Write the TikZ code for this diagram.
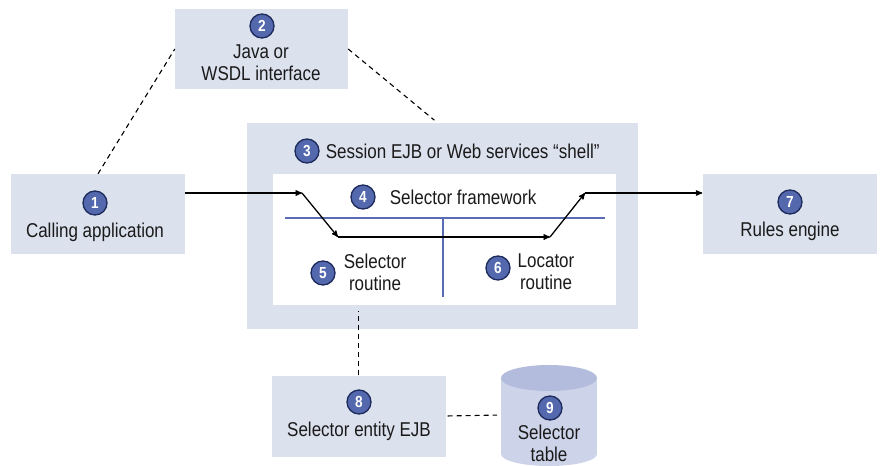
\documentclass[tikz,border=0pt]{standalone}
\usepackage{fontspec}
\setmainfont{Liberation Sans}[FakeStretch=0.85]
\usetikzlibrary{arrows,positioning}
\definecolor{boxfill}{HTML}{DCE1EE}
\definecolor{badge}{HTML}{5468AE}
\definecolor{badgeline}{HTML}{1C2A5C}
\definecolor{rulecol}{HTML}{5A6CB4}
\definecolor{tabbody}{HTML}{CDD3E8}
\definecolor{tabtop}{HTML}{B3BCDC}
\definecolor{ink}{HTML}{1A1A1A}

\begin{document}
\begin{tikzpicture}[x=1pt,y=-1pt,>=stealth',
        font=\fontsize{20}{22}\selectfont,
        box/.style={fill=boxfill,minimum width=174pt,minimum height=80pt,inner sep=0pt},
        num/.style={circle,fill=badge,draw=badgeline,line width=1.3pt,inner sep=0pt,
                    minimum size=24pt,text=white,font=\fontsize{16}{16}\selectfont\bfseries},
        txt/.style={align=center,text=ink,inner sep=0pt},
        link/.style={dash pattern=on 5pt off 4pt,line width=1.1pt},
        flow/.style={->,line width=1.3pt},
        rule/.style={draw=rulecol,line width=2pt}]

  \useasboundingbox (0,0) rectangle (884,466);

  \node[box] (calling) at (98,214) {};
  \node[box,minimum width=173pt] (iface) at (261.5,49) {};
  \node[box,minimum width=391pt,minimum height=206pt] (shell) at (442.5,226) {};
  \node[fill=white,minimum width=343pt,minimum height=131pt,inner sep=0pt] (inner) at (444.5,239.5) {};
  \node[box] (rules) at (789.5,214) {};
  \node[box,minimum height=81pt] (entity) at (358.5,416) {};

  \fill[tabbody] (501,378) rectangle (597,454);
  \fill[tabbody] (549,454) ellipse (48pt and 12pt);
  \fill[tabtop] (549,378) ellipse (48pt and 13pt);
  \coordinate (tabw) at (501,415);

  \draw[rule] (285,217.5) -- (605,217.5);
  \draw[rule] (443,217.5) -- (443,297);

  \node[num] (n1) at (95,203) {1};
  \node[txt] (t1) [below=7pt of n1] {Calling application};
  \node[num] (n2) at (262,26) {2};
  \node[txt] (t2) at (261,63) {Java or\\WSDL interface};
  \node[num] (n3) at (307,151) {3};
  \node[txt] (t3) [right=6pt of n3] {Session EJB or Web services “shell”};
  \node[num] (n4) at (363,197) {4};
  \node[txt] (t4) [right=14pt of n4] {Selector framework};
  \node[num] (n5) at (323,273) {5};
  \node[txt] (t5) at (375,272) {Selector\\routine};
  \node[num] (n6) at (498,268) {6};
  \node[txt] (t6) at (546,272) {Locator\\routine};
  \node[num] (n7) at (790,202) {7};
  \node[txt] (t7) [below=7pt of n7] {Rules engine};
  \node[num] (n8) at (359,402) {8};
  \node[txt] (t8) [below=7pt of n8] {Selector entity EJB};
  \node[num] (n9) at (550,408) {9};
  \node[txt] (t9) at (549,443) {Selector\\table};

  \coordinate (in1) at (302,193);
  \coordinate (in2) at (338,237);
  \coordinate (in3) at (550,237);
  \coordinate (in4) at (585,193);

  \draw[flow] (calling.east |- in1) -- (in1);
  \draw[flow] (in1) -- (in2);
  \draw[flow] (in2) -- (in3);
  \draw[flow] (in3) -- (in4);
  \draw[flow] (in4) -- (rules.west |- in4);

  \path[link]
        (calling.north) edge                    (iface.west)
        (iface.east)    edge[shorten >=4pt]     ([xshift=-5pt]shell.north)
        (entity.north)  edge[shorten >=6pt]     (entity.north |- inner.south)
        (entity.east)   edge[shorten <=2pt,shorten >=4pt] (tabw);

\end{tikzpicture}
\end{document}
